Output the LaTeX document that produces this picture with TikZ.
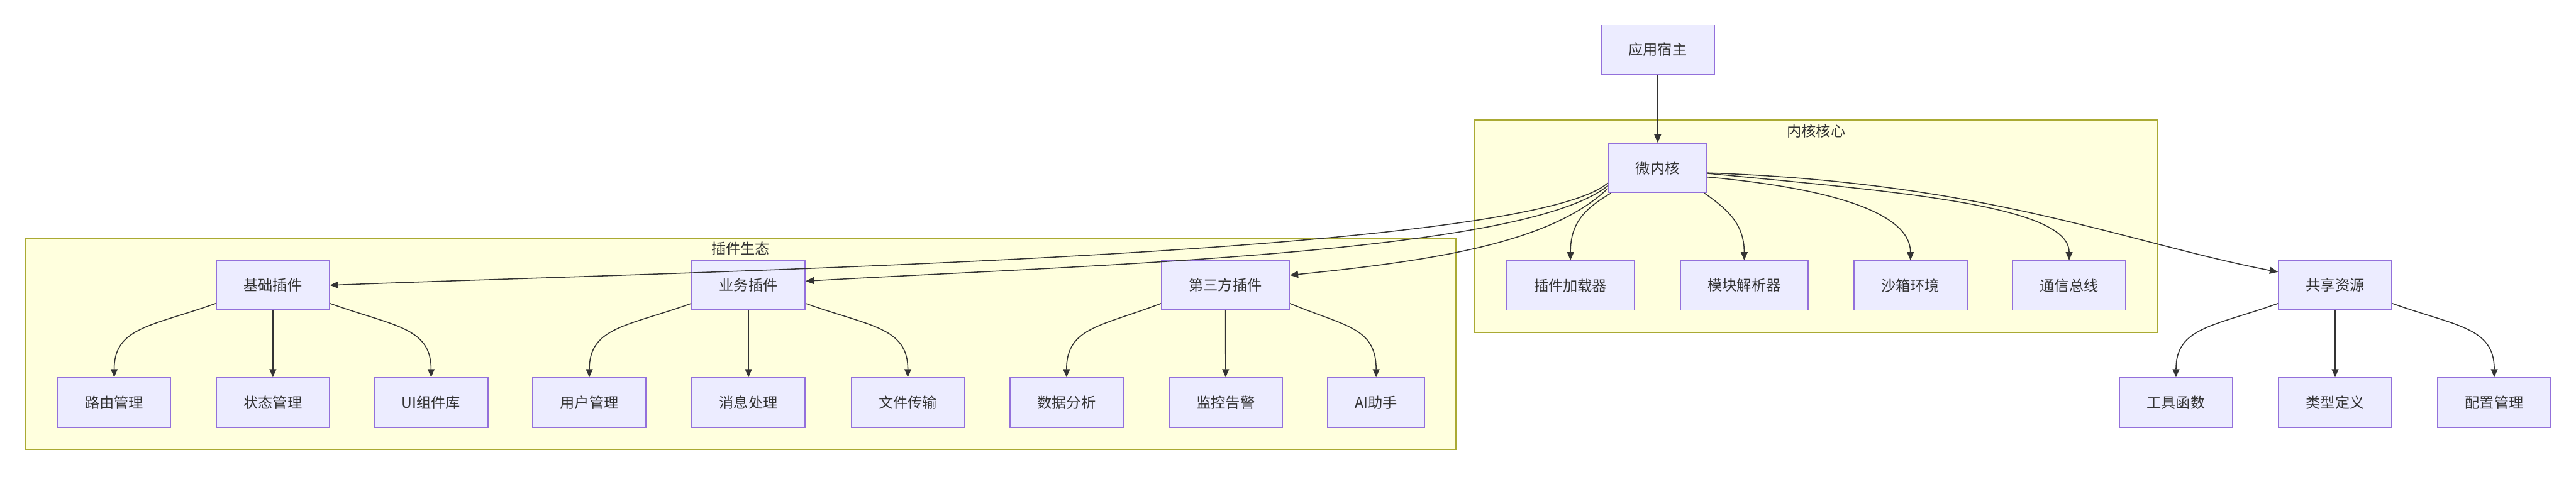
\documentclass[tikz,border=0pt]{standalone}
\usepackage{fontspec}
\setmainfont{Noto Sans CJK SC}
\usetikzlibrary{arrows.meta}
\definecolor{nodefill}{HTML}{ECECFF}
\definecolor{nodeborder}{HTML}{9370DB}
\definecolor{clusterfill}{HTML}{FFFFDE}
\definecolor{clusterborder}{HTML}{AAAA33}
\definecolor{linkcolor}{HTML}{333333}
\definecolor{labeltext}{HTML}{333333}
\tikzset{
  box/.style={draw=nodeborder, fill=nodefill, line width=0.7pt,
              minimum height=10.8mm, inner xsep=6mm, inner ysep=0pt,
              font=\fontsize{9.1}{11}\selectfont, text=labeltext},
  cluster/.style={draw=clusterborder, fill=clusterfill, line width=0.7pt},
  clustertitle/.style={font=\fontsize{9.1}{11}\selectfont, text=labeltext},
  link/.style={->, draw=linkcolor, line width=0.6pt},
  >={Triangle[length=1.8mm, width=1.5mm]},
}

\begin{document}
\begin{tikzpicture}
    \useasboundingbox (0,0) rectangle (56.41,-10.44);
    % clusters
    \draw[cluster] (0.55,-5.22) rectangle (31.88,-9.85);
    \draw[cluster] (32.29,-2.63) rectangle (47.24,-7.29);
    \node[clustertitle] (tplugin) at (16.22,-5.45) {插件生态};
    \node[clustertitle] (tcore) at (39.77,-2.87) {内核核心};
    % host and kernel
    \node[box] (host) at (36.30,-1.085) {应用宿主};
    \node[box] (kernel) at (36.30,-3.68) {微内核};
    \node[box] (loader) at (34.39,-6.255) {插件加载器};
    \node[box] (parser) at (38.195,-6.255) {模块解析器};
    \node[box] (sandbox) at (41.835,-6.255) {沙箱环境};
    \node[box] (bus) at (45.31,-6.255) {通信总线};
    % plugins
    \node[box] (basic) at (5.975,-6.25) {基础插件};
    \node[box] (biz) at (16.39,-6.25) {业务插件};
    \node[box] (third) at (26.835,-6.25) {第三方插件};
    \node[box] (router) at (2.50,-8.82) {路由管理};
    \node[box] (state) at (5.975,-8.82) {状态管理};
    \node[box] (uilib) at (9.44,-8.82) {UI组件库};
    \node[box] (user) at (12.905,-8.82) {用户管理};
    \node[box] (msg) at (16.39,-8.82) {消息处理};
    \node[box] (file) at (19.88,-8.82) {文件传输};
    \node[box] (data) at (23.355,-8.82) {数据分析};
    \node[box] (monitor) at (26.84,-8.82) {监控告警};
    \node[box] (ai) at (30.135,-8.82) {AI助手};
    % shared resources
    \node[box] (shared) at (51.135,-6.25) {共享资源};
    \node[box] (tools) at (47.65,-8.82) {工具函数};
    \node[box] (types) at (51.135,-8.82) {类型定义};
    \node[box] (config) at (54.62,-8.82) {配置管理};

    \draw[link] (host) -- (kernel);
    \draw[link] ([xshift=0.07cm]kernel.south west) .. controls +(-0.6,-0.35) and +(0,0.8) .. (loader.north);
    \draw[link] ([xshift=-0.07cm]kernel.south east) .. controls +(0.5,-0.35) and +(0,0.8) .. (parser.north);
    \draw[link] ([yshift=-0.2cm]kernel.east) .. controls +(2.43,-0.22) and +(0,1.11) .. (sandbox.north);
    \draw[link] ([yshift=-0.12cm]kernel.east) .. controls +(4.13,-0.4) and +(0,1.21) .. (bus.north);
    \draw[link] ([yshift=-0.11cm]kernel.east) .. controls +(6.13,-0.21) and +(-3.4,0.66) .. ([yshift=0.29cm]shared.west);
    \draw[link] ([yshift=-0.33cm]kernel.west) .. controls +(-1.83,-1.59) and +(7.79,0.30) .. (basic.east);
    \draw[link] ([yshift=-0.39cm]kernel.west) .. controls +(-1.83,-1.48) and +(6.37,0.36) .. ([yshift=0.09cm]biz.east);
    \draw[link] ([yshift=-0.45cm]kernel.west) .. controls +(-1.23,-1.17) and +(3.27,0.33) .. ([yshift=0.22cm]third.east);

    \draw[link] ([yshift=-0.4cm]basic.west) .. controls +(-1.4,-0.5) and +(0,1.1) .. (router.north);
    \draw[link] (basic) -- (state);
    \draw[link] ([yshift=-0.4cm]basic.east) .. controls +(1.4,-0.5) and +(0,1.1) .. (uilib.north);
    \draw[link] ([yshift=-0.4cm]biz.west) .. controls +(-1.4,-0.5) and +(0,1.1) .. (user.north);
    \draw[link] (biz) -- (msg);
    \draw[link] ([yshift=-0.4cm]biz.east) .. controls +(1.4,-0.5) and +(0,1.1) .. (file.north);
    \draw[link] ([yshift=-0.4cm]third.west) .. controls +(-1.3,-0.5) and +(0,1.1) .. (data.north);
    \draw[link] (third) -- (monitor);
    \draw[link] ([yshift=-0.4cm]third.east) .. controls +(1.2,-0.5) and +(0,1.1) .. (ai.north);
    \draw[link] ([yshift=-0.4cm]shared.west) .. controls +(-1.4,-0.5) and +(0,1.1) .. (tools.north);
    \draw[link] (shared) -- (types);
    \draw[link] ([yshift=-0.4cm]shared.east) .. controls +(1.4,-0.5) and +(0,1.1) .. (config.north);
\end{tikzpicture}
\end{document}
